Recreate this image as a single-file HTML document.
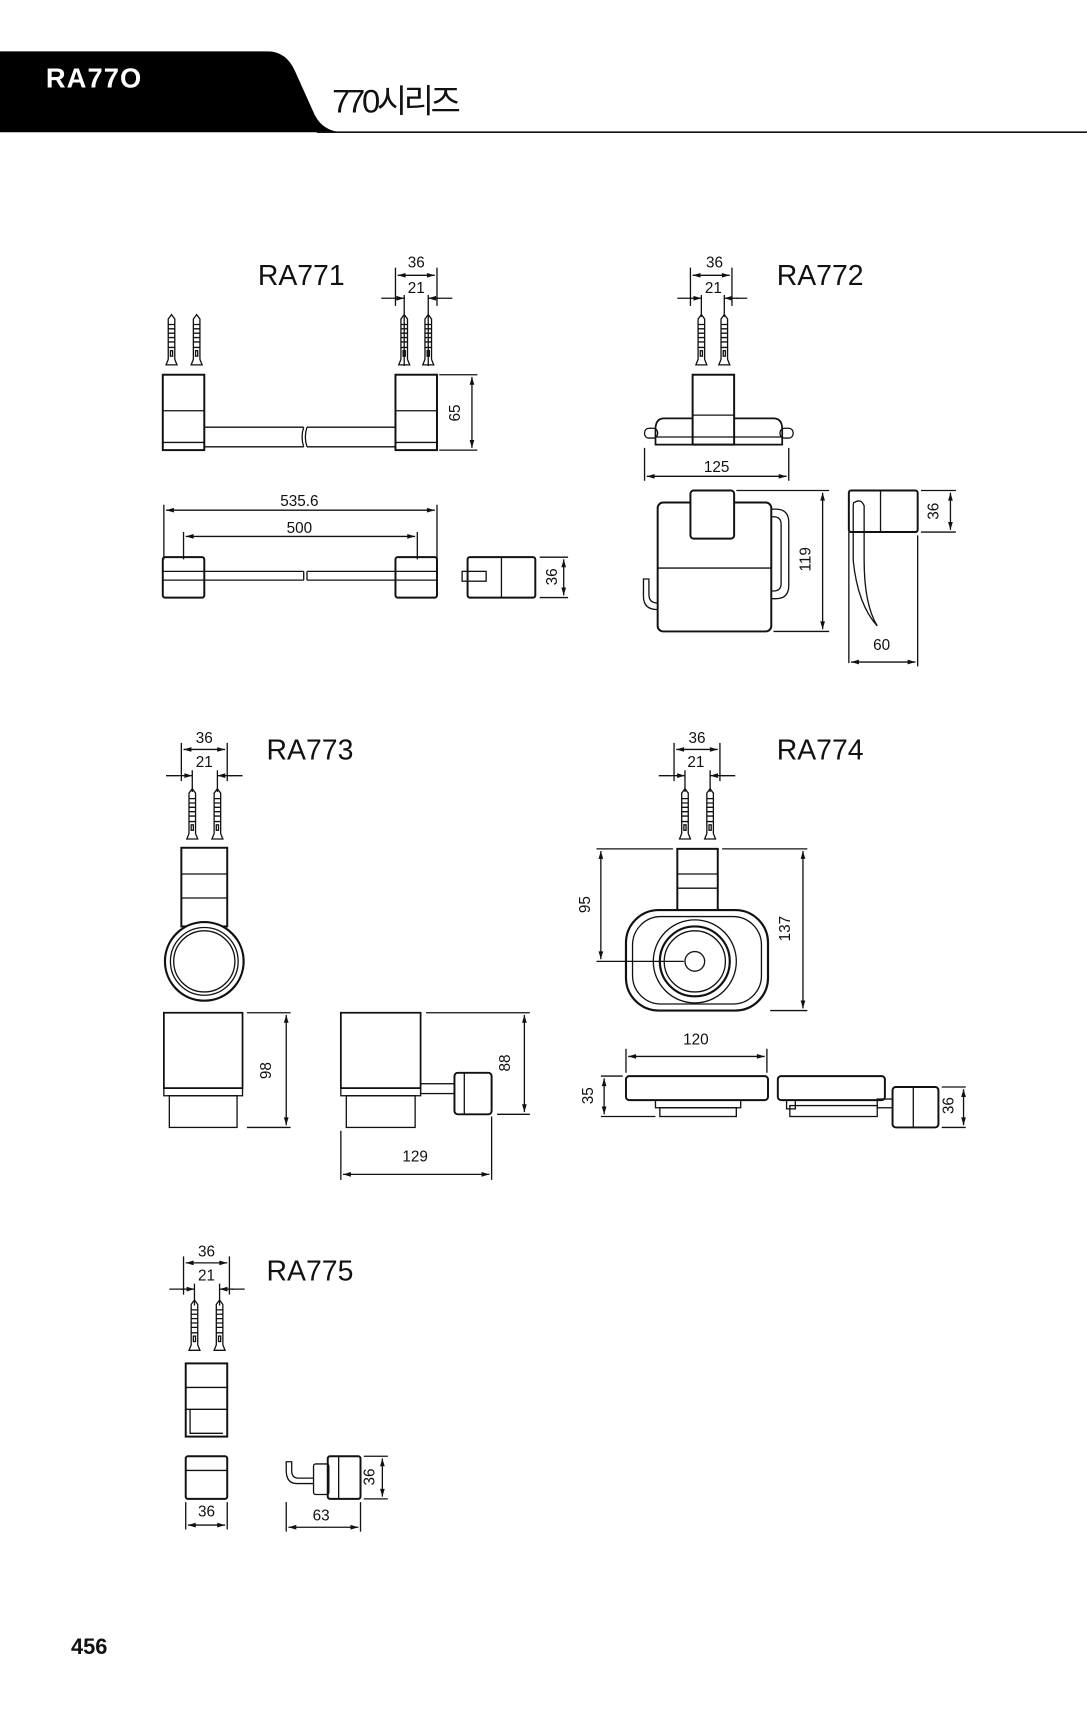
<!DOCTYPE html>
<html><head><meta charset="utf-8"><style>
html,body{margin:0;padding:0;background:#fff;}
svg{display:block;}
text{font-family:"Liberation Sans","Noto Sans CJK KR",sans-serif;fill:#111;}
.d{font-size:14px;text-anchor:middle;}
.l{font-size:26px;}
</style></head><body>
<svg width="1087" height="1713" viewBox="0 0 995 1568" xmlns="http://www.w3.org/2000/svg">
<defs>
<marker id="a" viewBox="0 0 10 10" refX="10" refY="5" markerWidth="8" markerHeight="6" orient="auto-start-reverse"><path d="M0,2 L10,5 L0,8z" fill="#111"/></marker>
<g id="sc" fill="none" stroke="#111" stroke-width="1.2">
<path d="M-3,4 L0,0 L3,4 L3,30 L-3,30 Z"/>
<path d="M-3,9 h6 M-3,13 h6 M-3,17 h6 M-3,21 h6 M-3,25 h6"/>
<rect x="-1" y="33" width="2" height="5"/>
<path d="M-3,30 L-3,41 L-5,46 L5,46 L3,41 L3,30"/>
</g>
</defs>
<!-- header -->
<path d="M0,47 L245,47 Q262,47 270,65 L288,105 Q296,121 315,121 L0,121 Z" fill="#000"/>
<line x1="290" y1="121" x2="995" y2="121" stroke="#111" stroke-width="1.5"/>
<text x="42" y="80" style="font-size:25px;fill:#fff;font-weight:bold;letter-spacing:1px">RA77O</text>
<text x="304" y="103" style="font-size:30px;letter-spacing:-3px">770시리즈</text>
<text x="65" y="1514" style="font-size:20px;font-weight:bold">456</text>

<g fill="none" stroke="#111" stroke-width="1.2">
<!-- RA771 -->
<use href="#sc" x="157" y="288"/><use href="#sc" x="180" y="288"/>
<use href="#sc" x="370" y="288"/><use href="#sc" x="392" y="288"/>
<rect x="149" y="343" width="38" height="69" stroke-width="1.8"/>
<path d="M149,376 h38 M149,405 h38"/>
<rect x="362" y="343" width="38" height="69" stroke-width="1.8"/>
<path d="M362,376 h38 M362,405 h38"/>
<path d="M187,391 H278 M187,409 H278 M281,391 H362 M281,409 H362 M278,391 q-3,9 0,18 M281,391 q-3,9 0,18"/>
<path d="M362,245 v35 M400,245 v35 M370,270 v65 M392,270 v65 M402,343 h35 M402,412 h35"/>
<line x1="364" y1="252" x2="398" y2="252" marker-start="url(#a)" marker-end="url(#a)"/>
<path d="M349,273 h10 M404,273 h10"/>
<line x1="359" y1="273" x2="370" y2="273" marker-end="url(#a)"/><line x1="404" y1="273" x2="392" y2="273" marker-end="url(#a)"/>
<line x1="432" y1="345" x2="432" y2="410" marker-start="url(#a)" marker-end="url(#a)"/>
<!-- top view -->
<path d="M150,462 v50 M400,462 v50 M168,487 v25 M382,487 v25"/>
<line x1="152" y1="467" x2="398" y2="467" marker-start="url(#a)" marker-end="url(#a)"/>
<line x1="170" y1="491" x2="380" y2="491" marker-start="url(#a)" marker-end="url(#a)"/>
<rect x="149" y="510" width="38" height="37" rx="2" stroke-width="1.8"/>
<rect x="362" y="510" width="38" height="37" rx="2" stroke-width="1.8"/>
<path d="M149,523 H278 M149,531 H278 M281,523 H400 M281,531 H400 M278,523 v8 M281,523 v8"/>
<rect x="428" y="510" width="62" height="37" rx="2" stroke-width="1.8"/>
<path d="M459,510 v37"/><rect x="423" y="523" width="22" height="9"/>
<path d="M494,510 h26 M494,547 h26"/>
<line x1="516" y1="512" x2="516" y2="545" marker-start="url(#a)" marker-end="url(#a)"/>

<!-- RA772 -->
<use href="#sc" x="642" y="288"/><use href="#sc" x="663" y="288"/>
<path d="M632,245 v35 M670,245 v35 M642,270 v20 M663,270 v20 M620,273 h10 M674,273 h10"/>
<line x1="634" y1="252" x2="668" y2="252" marker-start="url(#a)" marker-end="url(#a)"/>
<line x1="630" y1="273" x2="642" y2="273" marker-end="url(#a)"/><line x1="676" y1="273" x2="663" y2="273" marker-end="url(#a)"/>
<rect x="634" y="343" width="38" height="64" stroke-width="1.8"/><path d="M634,380 h38"/>
<path d="M634,383 H608 Q600,383 600,393 V407 H716 V393 Q716,383 708,383 H672" stroke-width="1.6"/>
<path d="M600,400 h116"/>
<rect x="590" y="392" width="12" height="9" rx="4"/><rect x="714" y="392" width="12" height="9" rx="4"/>
<path d="M590,410 v30 M722,410 v30"/>
<line x1="592" y1="436" x2="720" y2="436" marker-start="url(#a)" marker-end="url(#a)"/>
<!-- front -->
<rect x="602" y="460" width="104" height="118" rx="5" stroke-width="1.8"/>
<path d="M602,520 h104"/>
<rect x="632" y="449" width="40" height="44" rx="3" stroke-width="1.8" fill="#fff"/>
<path d="M706,466 h4 q12,0 12,12 v58 q0,12 -12,12 h-4 M706,473 h2 q7,0 7,7 v54 q0,7 -7,7 h-2"/>
<path d="M602,552 q-8,0 -8,-8 v-14 h-5 v16 q0,12 13,12"/>
<path d="M674,449 h85 M708,578 h51"/>
<line x1="753" y1="451" x2="753" y2="576" marker-start="url(#a)" marker-end="url(#a)"/>
<!-- side -->
<rect x="777" y="449" width="63" height="38" rx="2" stroke-width="1.8"/><path d="M806,449 v38"/>
<path d="M782,460 q6,-4 9,3 v50 q0,40 12,60 q-18,-20 -22,-60 v-48 q0,-6 1,-5" />
<path d="M777,487 v120 M840,490 v120 M843,449 h32 M843,487 h32"/>
<line x1="779" y1="606" x2="838" y2="606" marker-start="url(#a)" marker-end="url(#a)"/>
<line x1="870" y1="451" x2="870" y2="485" marker-start="url(#a)" marker-end="url(#a)"/>

<!-- RA773 -->
<use href="#sc" x="176" y="722"/><use href="#sc" x="199" y="722"/>
<path d="M166,680 v35 M208,680 v35 M176,705 v20 M199,705 v20 M152,710 h12 M210,710 h12"/>
<line x1="168" y1="686" x2="206" y2="686" marker-start="url(#a)" marker-end="url(#a)"/>
<line x1="164" y1="710" x2="176" y2="710" marker-end="url(#a)"/><line x1="212" y1="710" x2="199" y2="710" marker-end="url(#a)"/>
<rect x="166" y="776" width="42" height="72" stroke-width="1.8"/><path d="M166,800 h42 M166,822 h42"/>
<circle cx="187" cy="880" r="36" stroke-width="2" fill="#fff"/><circle cx="187" cy="880" r="31"/><circle cx="187" cy="880" r="28"/>
<path d="M150,927 h72 v69 h-72 z" stroke-width="1.6"/>
<rect x="150" y="996" width="72" height="7"/><rect x="155" y="1003" width="62" height="29"/>
<path d="M226,927 h40 M226,1032 h40"/>
<line x1="262" y1="929" x2="262" y2="1030" marker-start="url(#a)" marker-end="url(#a)"/>
<path d="M312,927 h73 v69 h-73 z" stroke-width="1.6"/>
<rect x="312" y="996" width="73" height="7"/><rect x="317" y="1003" width="63" height="29"/>
<rect x="385" y="992" width="38" height="9"/>
<rect x="416" y="982" width="34" height="38" rx="3" stroke-width="1.8" fill="#fff"/><path d="M425,982 v38"/>
<path d="M390,927 h95 M455,1020 h30 M312,1035 v45 M450,1022 v58"/>
<line x1="480" y1="929" x2="480" y2="1018" marker-start="url(#a)" marker-end="url(#a)"/>
<line x1="314" y1="1075" x2="448" y2="1075" marker-start="url(#a)" marker-end="url(#a)"/>

<!-- RA774 -->
<use href="#sc" x="627" y="722"/><use href="#sc" x="650" y="722"/>
<path d="M617,680 v35 M659,680 v35 M627,705 v20 M650,705 v20 M603,710 h12 M661,710 h12"/>
<line x1="619" y1="686" x2="657" y2="686" marker-start="url(#a)" marker-end="url(#a)"/>
<line x1="615" y1="710" x2="627" y2="710" marker-end="url(#a)"/><line x1="663" y1="710" x2="650" y2="710" marker-end="url(#a)"/>
<rect x="620" y="777" width="37" height="56" stroke-width="1.8"/><path d="M620,800 h37 M620,813 h37"/>
<rect x="573" y="833" width="130" height="92" rx="30" stroke-width="2" fill="#fff"/>
<rect x="579" y="839" width="118" height="80" rx="26"/>
<circle cx="636" cy="880" r="38"/><circle cx="636" cy="880" r="32" stroke-width="2"/><circle cx="636" cy="880" r="28"/><circle cx="636" cy="880" r="9"/>
<path d="M546,777 h70 M661,777 h78 M546,880 h80 M705,925 h34"/>
<line x1="550" y1="779" x2="550" y2="878" marker-start="url(#a)" marker-end="url(#a)"/>
<line x1="735" y1="779" x2="735" y2="923" marker-start="url(#a)" marker-end="url(#a)"/>
<path d="M573,960 v22 M702,960 v22"/>
<line x1="575" y1="967" x2="700" y2="967" marker-start="url(#a)" marker-end="url(#a)"/>
<rect x="573" y="985" width="130" height="22" rx="3" stroke-width="1.8"/>
<rect x="600" y="1007" width="78" height="7"/><rect x="604" y="1014" width="70" height="8"/>
<path d="M550,985 h20 M550,1022 h50"/>
<line x1="553" y1="987" x2="553" y2="1020" marker-start="url(#a)" marker-end="url(#a)"/>
<rect x="712" y="985" width="98" height="22" rx="3" stroke-width="1.8"/>
<rect x="720" y="1007" width="8" height="8"/><rect x="723" y="1012" width="80" height="10"/>
<rect x="803" y="1006" width="22" height="8"/>
<rect x="817" y="995" width="42" height="37" rx="3" stroke-width="1.8" fill="#fff"/><path d="M836,995 v37"/>
<path d="M862,995 h22 M862,1032 h22"/>
<line x1="882" y1="997" x2="882" y2="1030" marker-start="url(#a)" marker-end="url(#a)"/>

<!-- RA775 -->
<use href="#sc" x="178" y="1190"/><use href="#sc" x="201" y="1190"/>
<path d="M168,1150 v35 M210,1150 v35 M178,1175 v20 M201,1175 v20 M155,1180 h12 M212,1180 h12"/>
<line x1="170" y1="1156" x2="208" y2="1156" marker-start="url(#a)" marker-end="url(#a)"/>
<line x1="166" y1="1180" x2="178" y2="1180" marker-end="url(#a)"/><line x1="214" y1="1180" x2="201" y2="1180" marker-end="url(#a)"/>
<rect x="170" y="1248" width="38" height="67" stroke-width="1.8"/><path d="M170,1270 h38 M170,1290 h38 M174,1290 v22 h30"/>
<rect x="170" y="1333" width="38" height="39" rx="2" stroke-width="1.8"/><path d="M170,1346 h38"/>
<path d="M170,1375 v25 M208,1375 v25"/>
<line x1="172" y1="1396" x2="206" y2="1396" marker-start="url(#a)" marker-end="url(#a)"/>
<rect x="300" y="1333" width="30" height="39" rx="2" stroke-width="1.8"/><path d="M310,1333 v39"/>
<rect x="287" y="1340" width="14" height="28" rx="2"/>
<path d="M287,1358 h-15 q-10,0 -10,-12 v-8 h5 v8 q0,7 6,7 h14"/>
<path d="M333,1333 h22 M333,1372 h22 M262,1375 v27 M330,1375 v27"/>
<line x1="350" y1="1335" x2="350" y2="1370" marker-start="url(#a)" marker-end="url(#a)"/>
<line x1="264" y1="1398" x2="328" y2="1398" marker-start="url(#a)" marker-end="url(#a)"/>
</g>

<!-- labels -->
<text class="l" x="236" y="261">RA771</text>
<text class="l" x="711" y="261">RA772</text>
<text class="l" x="244" y="695">RA773</text>
<text class="l" x="711" y="695">RA774</text>
<text class="l" x="244" y="1172">RA775</text>
<g class="d">
<text x="381" y="245" class="d">36</text><text x="381" y="268" class="d">21</text>
<text x="654" y="245" class="d">36</text><text x="653" y="268" class="d">21</text>
<text x="274" y="463" class="d">535.6</text><text x="274" y="488" class="d">500</text>
<text x="656" y="432" class="d">125</text><text x="807" y="595" class="d">60</text>
<text x="187" y="680" class="d">36</text><text x="187" y="702" class="d">21</text>
<text x="638" y="680" class="d">36</text><text x="637" y="702" class="d">21</text>
<text x="380" y="1063" class="d">129</text><text x="637" y="956" class="d">120</text>
<text x="189" y="1150" class="d">36</text><text x="189" y="1172" class="d">21</text>
<text x="189" y="1388" class="d">36</text><text x="294" y="1392" class="d">63</text>
<text class="d" transform="translate(421,378) rotate(-90)">65</text>
<text class="d" transform="translate(510,528) rotate(-90)">36</text>
<text class="d" transform="translate(742,512) rotate(-90)">119</text>
<text class="d" transform="translate(859,468) rotate(-90)">36</text>
<text class="d" transform="translate(248,980) rotate(-90)">98</text>
<text class="d" transform="translate(467,973) rotate(-90)">88</text>
<text class="d" transform="translate(540,828) rotate(-90)">95</text>
<text class="d" transform="translate(723,850) rotate(-90)">137</text>
<text class="d" transform="translate(543,1003) rotate(-90)">35</text>
<text class="d" transform="translate(873,1012) rotate(-90)">36</text>
<text class="d" transform="translate(343,1352) rotate(-90)">36</text>
</g>
</svg>
</body></html>
